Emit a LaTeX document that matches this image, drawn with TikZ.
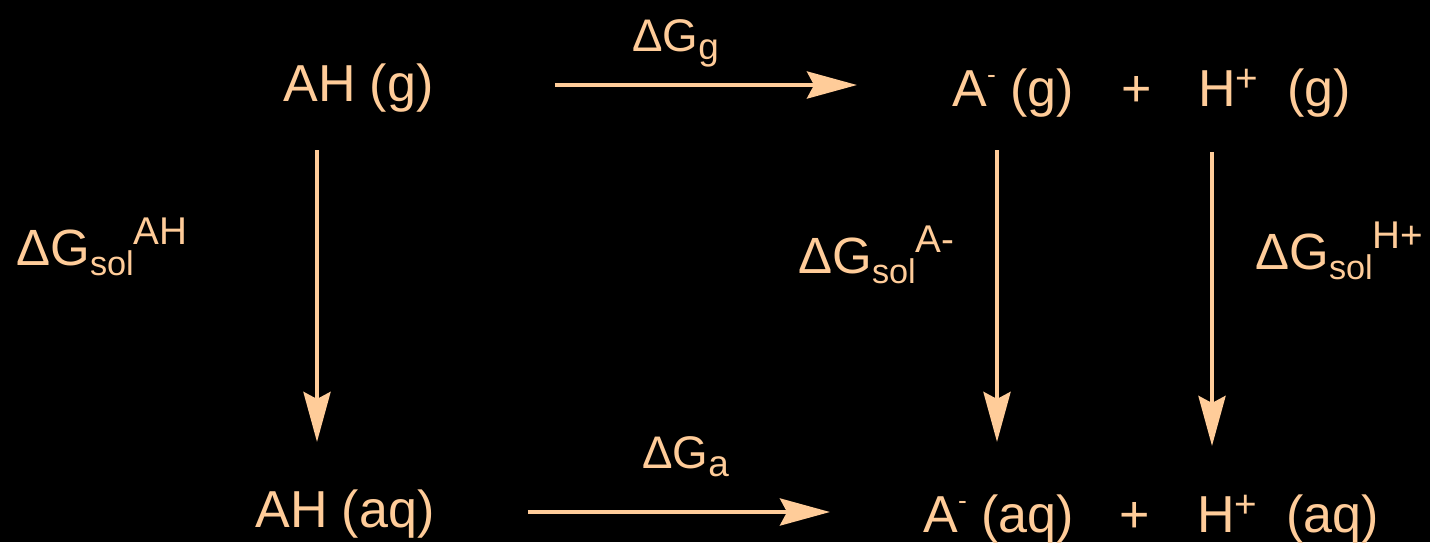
\documentclass[tikz,border=0pt]{standalone}
\usepackage{fontspec}
\setmainfont{Liberation Sans}
\usetikzlibrary{arrows.meta}
\definecolor{peach}{HTML}{FFCC99}
% raised or lowered small text: shift, size, text
\newcommand{\lift}[3]{\raisebox{#1}{\fontsize{#2}{#2}\selectfont #3}}

\begin{document}
\begin{tikzpicture}[
  x=0.02cm,y=-0.02cm,
  species/.style={anchor=base west,inner sep=0pt,text=peach,
    font=\fontsize{29.6}{34}\selectfont},
  dglabel/.style={anchor=base west,inner sep=0pt,text=peach,
    font=\fontsize{26}{30}\selectfont},
  sollabel/.style={anchor=base west,inner sep=0pt,text=peach,
    font=\fontsize{29}{33}\selectfont},
  arrow/.style={-{Stealth[length=1cm,width=0.54cm,inset=0.14cm]},
    line width=2.5pt,draw=peach}
]
  \useasboundingbox (0,0) rectangle (1430,542);
  \fill[black] (0,0) rectangle (1430,542);

  % gas phase
  \node[species] (ahg) at (283,101) {AH (g)};
  \node[species] (ag) at (952,106) {A\lift{13pt}{15}{-} (g)};
  \node[species,anchor=base] (plusg) at (1137,106) {+};
  \node[species] (hg) at (1198,106) {H\lift{8.4pt}{22}{+}\ \ (g)};

  % solution
  \node[species] (ahaq) at (255,527) {AH (aq)};
  \node[species] (aaq) at (923,532) {A\lift{13pt}{15}{-} (aq)};
  \node[species,anchor=base] (plusaq) at (1135,532) {+};
  \node[species] (haq) at (1197,532) {H\lift{8.4pt}{22}{+}\ \ (aq)};

  % free energies
  \node[dglabel] (dgg) at (632,51) {ΔG\lift{-5pt}{21}{g}};
  \node[dglabel] (dga) at (642,468) {ΔG\lift{-5pt}{21}{a}};
  \node[sollabel] (dgah) at (16,265)
    {ΔG\lift{-5.7pt}{19.5}{sol}\lift{11.4pt}{22}{AH}};
  \node[sollabel] (dgam) at (798,273)
    {ΔG\lift{-5.7pt}{19.5}{sol}\lift{11.4pt}{22}{A-}};
  \node[sollabel] (dghp) at (1255,269)
    {ΔG\lift{-5.7pt}{19.5}{sol}\lift{11.4pt}{22}{H+}};

  \draw[arrow] ([shift={(121,-16)}]ahg.base east) -- ([shift={(-95,-21)}]ag.base west);
  \draw[arrow] ([shift={(93,-15)}]ahaq.base east) -- ([shift={(-93,-20)}]aaq.base west);
  \draw[arrow] ([shift={(34,38)}]ahg.south west) -- ([shift={(62,-47)}]ahaq.north west);
  \draw[arrow] ([shift={(45,33)}]ag.south west) -- ([shift={(74,-52)}]aaq.north west);
  \draw[arrow] ([shift={(14,35)}]hg.south west) -- ([shift={(15,-48)}]haq.north west);
\end{tikzpicture}
\end{document}
